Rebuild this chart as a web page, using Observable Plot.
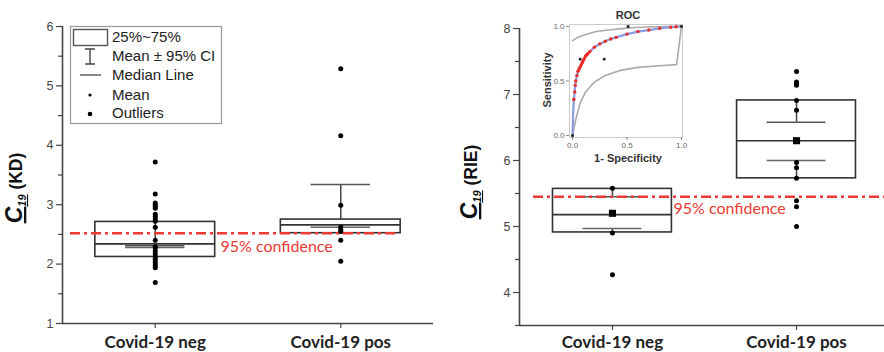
<!DOCTYPE html>
<html>
<head>
<meta charset="utf-8">
<script src="https://cdn.jsdelivr.net/npm/d3@7"></script>
<script src="https://cdn.jsdelivr.net/npm/@observablehq/plot@0.6"></script>
<style>
  html, body { margin: 0; padding: 0; background: #fff; }
  #wrap { position: relative; width: 884px; height: 352px; overflow: hidden; background: #fff; }
  #wrap > svg { position: absolute; top: 0; }
</style>
</head>
<body>
<div id="wrap"></div>
<script>
// ---------- data ----------
const categories = ["Covid-19 neg", "Covid-19 pos"];

// Left panel: C19 (KD)
const kdTicks = [1, 2, 3, 4, 5, 6];
const kdMinorTicks = [1.5, 2.5, 3.5, 4.5, 5.5];
const kdQ1 = [2.12, 2.52];
const kdMedian = [2.34, 2.66];
const kdQ3 = [2.71, 2.75];
const kdMean = [2.29, 2.99];
const kdCiLow = [2.28, 2.62];
const kdCiHigh = [2.31, 3.34];
const kdNegPoints = [3.72, 3.18, 3.03, 3.0, 2.97, 2.94, 2.84, 2.8, 2.76, 2.72, 2.62, 2.4, 2.27, 2.22, 2.17, 2.12, 2.08, 2.04, 2.0, 1.97, 1.94, 1.69];
const kdPosPoints = [5.29, 4.16, 2.62, 2.58, 2.55, 2.4, 2.05];
const kdThreshold = 2.52;

// Right panel: C19 (RIE)
const rieTicks = [4, 5, 6, 7, 8];
const rieMinorTicks = [3.5, 4.5, 5.5, 6.5, 7.5];
const rieQ1 = [4.91, 5.73];
const rieMedian = [5.18, 6.30];
const rieQ3 = [5.57, 6.91];
const rieMean = [5.20, 6.30];
const rieCiLow = [4.97, 6.00];
const rieCiHigh = [5.45, 6.58];
const rieNegPoints = [5.58, 4.90, 4.27];
const riePosPoints = [7.35, 7.19, 7.16, 7.14, 6.91, 6.76, 5.97, 5.89, 5.73, 5.39, 5.30, 5.0];
const rieThreshold = 5.45;

// Inset ROC
const rocFpr = [0, 0.005, 0.012, 0.02, 0.025, 0.03, 0.04, 0.05, 0.06, 0.07, 0.08, 0.09, 0.1, 0.11, 0.12, 0.13, 0.14, 0.16, 0.2, 0.25, 0.3, 0.35, 0.4, 0.5, 0.6, 0.7, 0.8, 0.9, 0.95, 1];
const rocTpr = [0, 0.2, 0.33, 0.4, 0.46, 0.5, 0.55, 0.59, 0.61, 0.63, 0.65, 0.67, 0.69, 0.71, 0.73, 0.74, 0.75, 0.77, 0.81, 0.84, 0.865, 0.885, 0.9, 0.93, 0.953, 0.967, 0.983, 0.993, 0.997, 1];
const rocUpperX = [0, 0.05, 0.1, 0.2, 0.35, 0.5, 0.7, 0.85, 1];
const rocUpperY = [0.87, 0.9, 0.92, 0.95, 0.97, 0.985, 0.995, 0.999, 1];
const rocLowerX = [0, 0.03, 0.07, 0.12, 0.2, 0.3, 0.45, 0.6, 0.8, 0.955, 1];
const rocLowerY = [0, 0.15, 0.3, 0.4, 0.49, 0.55, 0.6, 0.625, 0.64, 0.65, 1];
const rocMarkX = [0, 0.07, 0.29, 0.51, 1];
const rocMarkY = [0, 0.70, 0.70, 1.0, 1];
const rocTicks = [0, 0.5, 1];

const legendLabels = ["25%~75%", "Mean \u00b1 95% CI", "Median Line", "Mean", "Outliers"];
const confidenceLabel = "95% confidence";

// ---------- styles ----------
const RED = "#ea3a33";
const AX = "#444";
const BOXC = "#333";
const boxHalf = 0.323, capHalf = 0.16;
const wrap = document.getElementById("wrap");

function boxPanel(o) {
  const idx = categories.map((_, i) => i);
  const pts = [];
  o.points.forEach((arr, i) => arr.forEach(v => pts.push({i, v})));
  const svg = Plot.plot({
    width: o.width, height: 352,
    marginLeft: o.ml, marginRight: o.mr, marginTop: o.mt, marginBottom: o.mb,
    x: {domain: o.xDomain, axis: null},
    y: {domain: o.yDomain, axis: null},
    style: {fontFamily: "Liberation Sans, Arial, sans-serif", fontSize: "12px", color: AX, background: "transparent", overflow: "visible"},
    marks: [
      Plot.rect(idx, {x1: i => i - boxHalf, x2: i => i + boxHalf, y1: i => o.q1[i], y2: i => o.q3[i], fill: "none", stroke: BOXC, strokeWidth: 1.6}),
      Plot.ruleY(idx, {x1: i => i - boxHalf, x2: i => i + boxHalf, y: i => o.median[i], stroke: BOXC, strokeWidth: 1.6}),
      Plot.ruleX(idx, {x: i => i, y1: i => o.q3[i], y2: i => o.ciHigh[i], stroke: "#444", strokeWidth: 1.5}),
      Plot.ruleX(idx, {x: i => i, y1: i => o.q1[i], y2: i => o.ciLow[i], stroke: "#444", strokeWidth: 1.5}),
      Plot.ruleY(idx, {x1: i => i - capHalf, x2: i => i + capHalf, y: i => o.ciHigh[i], stroke: "#555", strokeWidth: 1.6}),
      Plot.ruleY(idx, {x1: i => i - capHalf, x2: i => i + capHalf, y: i => o.ciLow[i], stroke: "#666", strokeWidth: 1.6}),
      Plot.ruleY([o.threshold], {stroke: RED, strokeWidth: 2.6, strokeDasharray: "10,4,3,4", insetLeft: o.redInsetL, insetRight: o.redInsetR}),
      Plot.dot(pts, {x: "i", y: "v", r: 2.5, fill: "#000"}),
      Plot.dot(idx, {x: i => i, y: i => o.mean[i], r: o.meanR, fill: "#000", symbol: o.meanSymbol}),
      Plot.text([confidenceLabel], {frameAnchor: "left", y: [o.threshold], dx: o.labelDx, dy: o.labelDy, textAnchor: "start", fill: RED, fontSize: 16, fontFamily: "Lato, Open Sans, sans-serif"}),
      Plot.axisY({ticks: o.ticks, tickSize: 6, tickPadding: 3, fontSize: 12.5, tickFormat: d => String(d), stroke: AX, strokeWidth: 1.2, fill: "#444", label: null}),
      Plot.axisY({ticks: o.minorTicks, tickSize: 4, tickFormat: () => "", stroke: AX, strokeWidth: 1.2, label: null}),
      Plot.axisX({ticks: [0, 1], tickSize: 5, tickPadding: o.xPad, tickFormat: i => categories[i], fontSize: 17, fontWeight: "bold", fontFamily: "Lato, Open Sans, sans-serif", fill: "#222", stroke: AX, strokeWidth: 1.2, label: null}),
      Plot.ruleX([o.xDomain[0]], {stroke: AX, strokeWidth: 1.6}),
      Plot.ruleY([o.yDomain[0]], {stroke: AX, strokeWidth: 1.6})
    ]
  });
  svg.style.left = o.left + "px";
  // y axis label  C19 (unit)
  const t = d3.select(svg).append("text")
    .attr("transform", `translate(${o.labX},${o.labY}) rotate(-90)`)
    .attr("text-anchor", "middle")
    .attr("font-family", "Liberation Sans, Arial, sans-serif")
    .attr("fill", "#111");
  t.append("tspan").text("C").attr("font-style", "italic").attr("font-weight", "bold").attr("font-size", 23).attr("text-decoration", "underline");
  t.append("tspan").text("19").attr("font-style", "italic").attr("font-weight", "bold").attr("font-size", 11).attr("dy", 4).attr("text-decoration", "underline");
  t.append("tspan").text(" (" + o.unit + ")").attr("font-weight", "bold").attr("font-size", 17.5).attr("dy", -4);
  wrap.appendChild(svg);
  return svg;
}

const left = boxPanel({
  left: 0, width: 440, ml: 62, mr: 7, mt: 26, mb: 29,
  xDomain: [-0.5, 1.5], yDomain: [1, 6], ticks: kdTicks, minorTicks: kdMinorTicks,
  q1: kdQ1, q3: kdQ3, median: kdMedian, mean: kdMean, ciLow: kdCiLow, ciHigh: kdCiHigh,
  points: [kdNegPoints, kdPosPoints], threshold: kdThreshold,
  redInsetL: 8, redInsetR: 35, labelDx: 158, labelDy: 14, xPad: 7,
  meanR: 2.5, meanSymbol: "circle", unit: "KD", labX: 22, labY: 188
});

// legend for left panel
{
  const g = d3.select(left).append("g").attr("font-family", "Liberation Sans, Arial, sans-serif").attr("font-size", 15).attr("fill", "#222").attr("text-anchor", "start");
  g.append("rect").attr("x", 70.5).attr("y", 26.5).attr("width", 151).attr("height", 97).attr("fill", "#fff").attr("stroke", "#999").attr("stroke-width", 1.2);
  g.append("rect").attr("x", 73.5).attr("y", 29.5).attr("width", 34).attr("height", 16).attr("fill", "none").attr("stroke", "#555").attr("stroke-width", 1.4);
  g.append("path").attr("d", "M85,49H95M90,49V64M85,64H95").attr("stroke", "#444").attr("stroke-width", 1.4).attr("fill", "none");
  g.append("path").attr("d", "M80,75H101").attr("stroke", "#555").attr("stroke-width", 1.4);
  g.append("circle").attr("cx", 90).attr("cy", 95).attr("r", 1.6).attr("fill", "#000");
  g.append("circle").attr("cx", 90).attr("cy", 114).attr("r", 2.3).attr("fill", "#000");
  const ys = [37, 56, 75, 95, 113];
  legendLabels.forEach((s, k) => g.append("text").attr("x", 112).attr("y", ys[k]).attr("dy", "0.36em").attr("text-anchor", "start").text(s));
}

const right = boxPanel({
  left: 440, width: 444, ml: 79, mr: 0, mt: 28, mb: 27,
  xDomain: [-0.505, 1.478], yDomain: [3.5, 8], ticks: rieTicks, minorTicks: rieMinorTicks,
  q1: rieQ1, q3: rieQ3, median: rieMedian, mean: rieMean, ciLow: rieCiLow, ciHigh: rieCiHigh,
  points: [rieNegPoints, riePosPoints], threshold: rieThreshold,
  redInsetL: 14, redInsetR: 0, labelDx: 154, labelDy: 12, xPad: 5,
  meanR: 4, meanSymbol: "square", unit: "RIE", labX: 37, labY: 182
});

// inset ROC
{
  const roc = rocFpr.map((x, i) => ({x, y: rocTpr[i]}));
  const up = rocUpperX.map((x, i) => ({x, y: rocUpperY[i]}));
  const lo = rocLowerX.map((x, i) => ({x, y: rocLowerY[i]}));
  const mk = rocMarkX.map((x, i) => ({x, y: rocMarkY[i]}));
  const inset = Plot.plot({
    width: 170, height: 170, marginLeft: 49, marginRight: 8, marginTop: 24, marginBottom: 33,
    x: {domain: [-0.028, 1.009], axis: null},
    y: {domain: [-0.018, 1.018], axis: null},
    style: {fontFamily: "Liberation Sans, Arial, sans-serif", fontSize: "8px", color: "#777", background: "transparent", overflow: "visible"},
    marks: [
      Plot.frame({stroke: "#ccc", strokeWidth: 1}),
      Plot.line(up, {x: "x", y: "y", stroke: "#aaa", strokeWidth: 1.6, curve: "monotone-x"}),
      Plot.line(lo, {x: "x", y: "y", stroke: "#aaa", strokeWidth: 1.6, curve: "linear"}),
      Plot.line(roc, {x: "x", y: "y", stroke: "#8b9be0", strokeWidth: 2.2}),
      Plot.dot(roc.filter((d, i) => i > 1 && i < roc.length - 1), {x: "x", y: "y", r: 1.7, fill: "#ee2a24"}),
      Plot.dot(mk, {x: "x", y: "y", r: 1.5, fill: "#222", symbol: "square"}),
      Plot.axisY({ticks: rocTicks, tickSize: 3, tickPadding: 2, tickFormat: d3.format(".1f"), fontSize: 8, fill: "#666", stroke: "#888", label: null}),
      Plot.axisX({ticks: rocTicks, tickSize: 3, tickPadding: 2, tickFormat: d3.format(".1f"), fontSize: 8, fill: "#666", stroke: "#888", label: null})
    ]
  });
  inset.style.left = "520px";
  const s = d3.select(inset);
  const lab = (txt, x, y, rot) => s.append("text").attr("transform", `translate(${x},${y})${rot ? " rotate(-90)" : ""}`)
    .attr("text-anchor", "middle").attr("dy", "0.36em").attr("font-family", "Liberation Sans, Arial, sans-serif")
    .attr("font-weight", "bold").attr("font-size", 11).attr("fill", "#333").text(txt);
  lab("ROC", 108, 15, false);
  lab("Sensitivity", 27, 80, true);
  lab("1- Specificity", 108, 158, false);
  wrap.appendChild(inset);
}
</script>
</body>
</html>
